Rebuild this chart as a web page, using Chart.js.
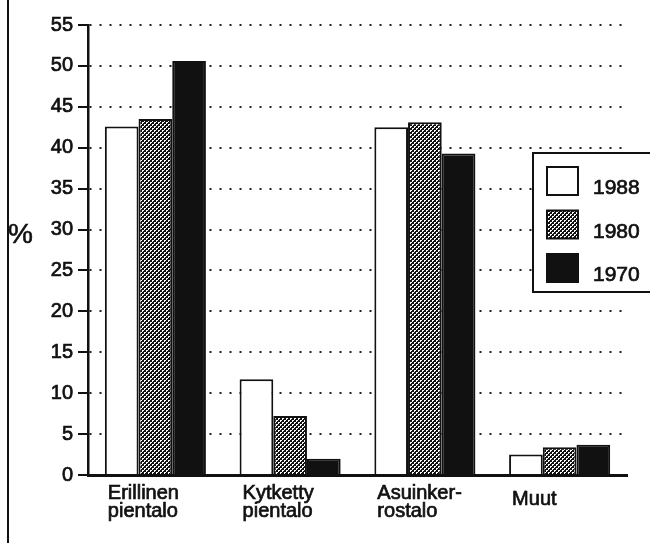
<!DOCTYPE html>
<html>
<head>
<meta charset="utf-8">
<script src="https://cdn.jsdelivr.net/npm/chart.js@4"></script>
<style>
  body { margin: 0; background: #fff; }
  #wrap { position: relative; width: 650px; height: 543px; overflow: hidden; }
  #frame { position: absolute; left: 7px; top: 0; width: 2px; height: 543px; background: #111; }
  #pct { position: absolute; left: 8px; top: 218px; font: 28px 'Liberation Sans', Arial, sans-serif; color: #111; -webkit-text-stroke: 0.6px #111; }
  canvas { position: absolute; left: 0; top: 0; }
</style>
</head>
<body>
<div id="wrap">
  <div id="frame"></div>
  <canvas id="chart" width="650" height="543"></canvas>
  <div id="pct">%</div>
</div>
<script>
// データ
const categories = [['Erillinen', 'pientalo'], ['Kytketty', 'pientalo'], ['Asuinker-', 'rostalo'], ['Muut']];
const years = ['1988', '1980', '1970'];
const values1988 = [42.6, 11.7, 42.5, 2.5];
const values1980 = [43.5, 7.2, 43.1, 3.4];
const values1970 = [50.6, 2.0, 39.3, 3.7];
const yMax = 55;
const yStep = 5;

const FONT = "'Liberation Sans', Arial, sans-serif";
const INK = '#111';

// 網点パターン (1980)
function makeDots() {
    const c = document.createElement('canvas');
    c.width = 4; c.height = 4;
    const g = c.getContext('2d');
    g.fillStyle = INK;
    g.fillRect(0, 0, 4, 4);
    g.fillStyle = '#fff';
    [[0, 0], [1, 0], [0, 1], [2, 2], [3, 2], [2, 3]].forEach(p => g.fillRect(p[0], p[1], 1, 1));
    return g.createPattern(c, 'repeat');
}

const fills = ['#fff', makeDots(), INK];
const series = [values1988, values1980, values1970];

// 少し太く見せる
function inkText(ctx, t, x, y) {
    ctx.fillText(t, x, y);
    ctx.strokeText(t, x, y);
}

// x軸ラベルと凡例
const extras = {
    id: 'extras',
    afterDraw(chart) {
        const ctx = chart.ctx;
        const area = chart.chartArea;
        const xs = chart.scales.x;
        const catW = (area.right - area.left) / categories.length;
        ctx.save();
        ctx.fillStyle = INK;
        ctx.strokeStyle = INK;
        ctx.lineWidth = 0.7;
        ctx.font = '20px ' + FONT;
        ctx.textAlign = 'left';
        ctx.textBaseline = 'alphabetic';
        categories.forEach((lines, i) => {
            const left = xs.getPixelForValue(i) - catW * 0.75 / 2 + 3;
            const base = area.bottom + 24 + (lines.length === 1 ? 6 : 0);
            lines.forEach((t, j) => inkText(ctx, t, left, base + j * 18));
        });

        // legend box
        const bx = area.right - 94, by = area.top + 128;
        ctx.fillStyle = '#fff';
        ctx.fillRect(bx, by, 130, 139);
        ctx.lineWidth = 2;
        ctx.strokeRect(bx, by, 130, 139);
        ctx.font = '21px ' + FONT;
        chart.data.datasets.forEach((ds, i) => {
            const sy = by + 14 + i * 43.5;
            ctx.fillStyle = ds.backgroundColor;
            ctx.lineWidth = 2;
            ctx.fillRect(bx + 14, sy, 31, 28);
            ctx.strokeRect(bx + 14, sy, 31, 28);
            ctx.fillStyle = INK;
            ctx.lineWidth = 0.7;
            inkText(ctx, ds.label, bx + 60, sy + 27);
        });
        ctx.restore();
    }
};

new Chart(document.getElementById('chart'), {
    type: 'bar',
    data: {
        labels: categories,
        datasets: series.map((vals, i) => ({
            label: years[i],
            data: vals,
            backgroundColor: fills[i],
            borderColor: INK,
            borderWidth: 2,
            barPercentage: 1,
            categoryPercentage: 0.75
        }))
    },
    options: {
        responsive: false,
        animation: false,
        layout: { padding: { left: 43, right: 23, top: 25, bottom: 60 } },
        plugins: { legend: { display: false }, tooltip: { enabled: false } },
        scales: {
            x: {
                grid: { display: false },
                ticks: { display: false },
                border: { color: INK, width: 3 }
            },
            y: {
                min: 0,
                max: yMax,
                ticks: {
                    stepSize: yStep,
                    color: INK,
                    font: { family: FONT, size: 20 },
                    padding: 5,
                    textStrokeColor: INK,
                    textStrokeWidth: 0.7
                },
                grid: {
                    color: c => c.tick && c.tick.value === 0 ? 'rgba(0,0,0,0)' : '#222',
                    lineWidth: 2,
                    tickLength: 10,
                    tickColor: INK,
                    tickWidth: 2,
                    tickBorderDash: []
                },
                border: { color: INK, width: 2.5, dash: [2, 8] },
                afterFit(s) { s.width = 45; }
            }
        }
    },
    plugins: [extras]
});
</script>
</body>
</html>
